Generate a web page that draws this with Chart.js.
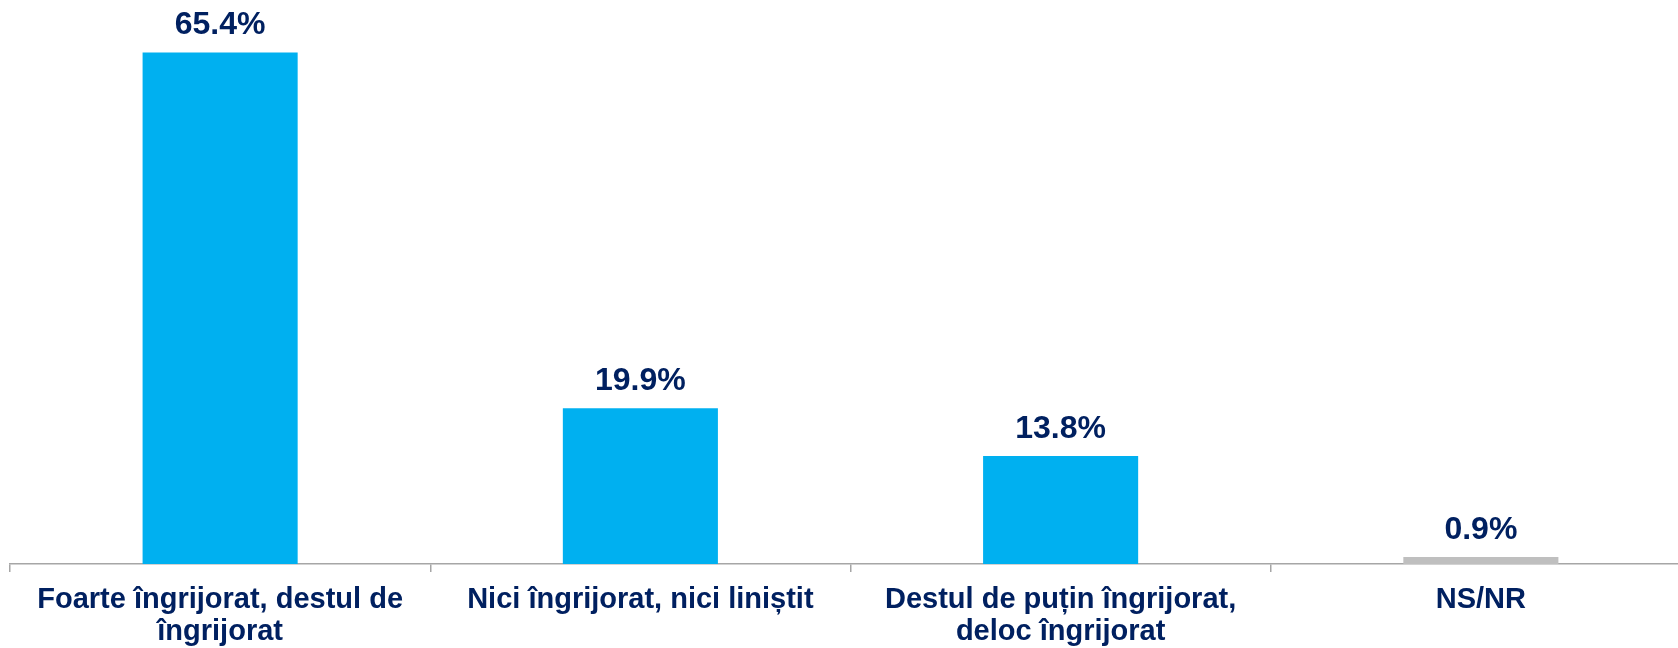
<!DOCTYPE html>
<html>
<head>
<meta charset="utf-8">
<script src="https://cdn.jsdelivr.net/npm/chart.js@4/dist/chart.umd.min.js"></script>
<style>
  html, body { margin: 0; padding: 0; background: #fff; overflow: hidden; }
  #wrap { width: 1691px; height: 648px; }
</style>
</head>
<body>
<div id="wrap"><canvas id="barChart" width="1691" height="648"></canvas></div>
<script>
const categories = [
  ["Foarte îngrijorat, destul de", "îngrijorat"],
  ["Nici îngrijorat, nici liniștit"],
  ["Destul de puțin îngrijorat,", "deloc îngrijorat"],
  ["NS/NR"],
];
const values = [65.4, 19.9, 13.8, 0.9];
const barColors = ["#00B0F0", "#00B0F0", "#00B0F0", "#BFBFBF"];

const NAVY = "#002060";
const FONT = "'Liberation Sans', Arial, sans-serif";

// percentages printed above every bar
const valueLabels = {
  id: "valueLabels",
  afterDatasetsDraw(chart) {
    const ctx = chart.ctx;
    const meta = chart.getDatasetMeta(0);
    ctx.save();
    ctx.font = "bold 32px " + FONT;
    ctx.fillStyle = NAVY;
    ctx.textAlign = "center";
    ctx.textBaseline = "alphabetic";
    meta.data.forEach((bar, i) => {
      ctx.fillText(values[i].toFixed(1) + "%", bar.x, bar.y - 18);
    });
    ctx.restore();
  },
};

new Chart(document.getElementById("barChart"), {
  type: "bar",
  data: {
    labels: categories,
    datasets: [{
      data: values,
      backgroundColor: barColors,
      borderWidth: 0,
      barPercentage: 1,
      categoryPercentage: 0.369,
    }],
  },
  options: {
    responsive: false,
    animation: false,
    layout: { padding: { left: 10, right: 0, top: 0, bottom: 0 } },
    plugins: {
      legend: { display: false },
      tooltip: { enabled: false },
    },
    scales: {
      x: {
        // fixed band for the two-line category names
        afterFit(scale) { scale.height = 84; },
        border: { display: true, color: "#A6A6A6", width: 1.5 },
        grid: {
          offset: true,
          drawOnChartArea: false,
          drawTicks: true,
          tickLength: 8,
          color: "#A6A6A6",
          lineWidth: 1.5,
        },
        ticks: {
          color: NAVY,
          padding: 12,
          maxRotation: 0,
          autoSkip: false,
          font: { family: FONT, size: 29, weight: "bold", lineHeight: 32 / 29 },
        },
      },
      y: {
        display: false,
        min: 0,
        max: 72.1,
      },
    },
  },
  plugins: [valueLabels],
});
</script>
</body>
</html>
